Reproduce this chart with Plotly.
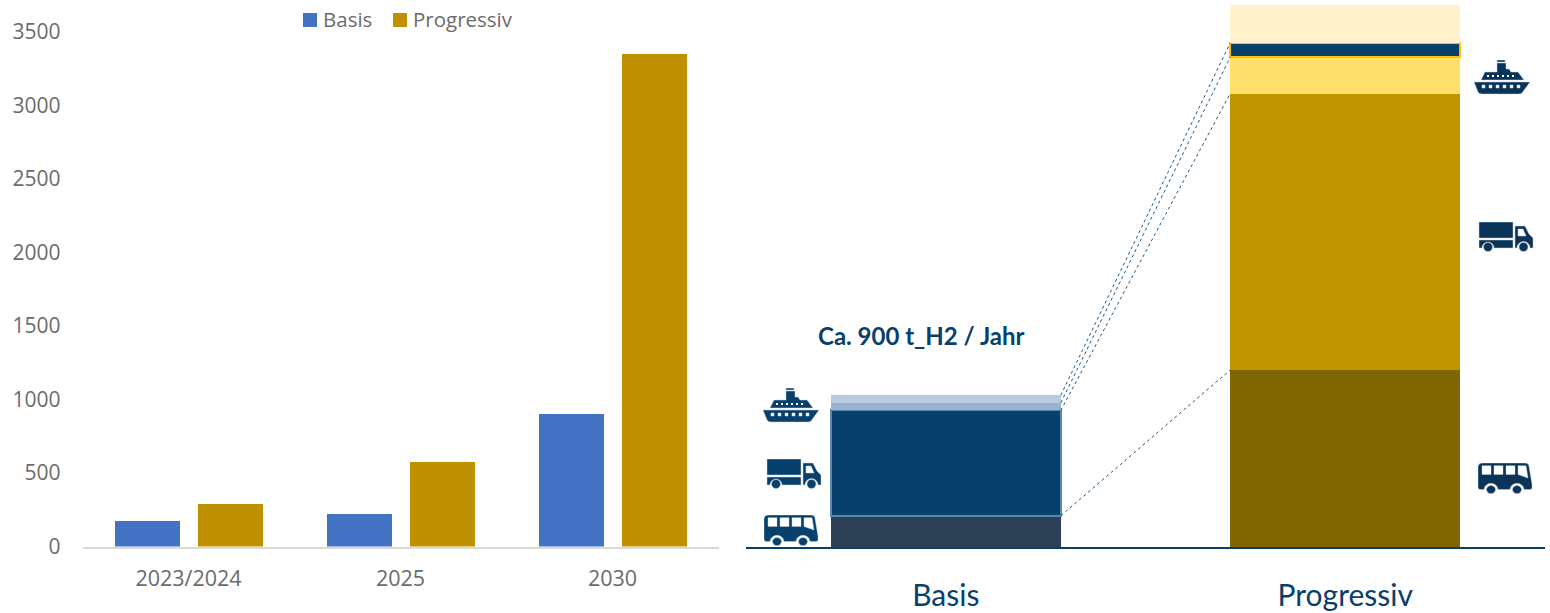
import base64

import plotly.graph_objects as go

# Left chart: hydrogen demand per year and scenario
years = ["2023/2024", "2025", "2030"]
basis = [175, 220, 900]
progressiv = [290, 575, 3350]

# Right chart: 2030 demand per transport segment, bottom to top
scenarios = ["Basis", "Progressiv"]
seg_bus = [185, 1050]
seg_truck = [625, 1640]
seg_ship_a = [45, 215]
seg_ship_b = [45, 85]
seg_ship_c = [0, 225]
segments = [seg_bus, seg_truck, seg_ship_a, seg_ship_b, seg_ship_c]

seg_fill = [
    ["#2c3f55", "#806600"],
    ["#07406c", "#bf9600"],
    ["#97b3cf", "#ffdf6b"],
    ["#b9cbdd", "#07406c"],
    ["#fff2cc", "#fff2cc"],
]
seg_line = [
    ["#2c3f55", "#806600"],
    ["#5b86ae", "#bf9600"],
    ["#97b3cf", "#ffdf6b"],
    ["#b9cbdd", "#ffc000"],
    ["#fff2cc", "#fff2cc"],
]
seg_line_width = [[0, 0], [2, 0], [0, 0], [0, 2], [0, 0]]

W, H = 1550, 613
NAVY = "#07406c"
GREY = "#6b6b6b"
FONT = "Open Sans"
LABEL_FONT = "Lato"
STACK_WIDTH = 0.576
BASIS_BLUE = "#4472c4"
PROG_GOLD = "#bf9000"

fig = go.Figure()

for name, vals, colour, off in [
    ("Basis", basis, BASIS_BLUE, -0.347),
    ("Progressiv", progressiv, PROG_GOLD, 0.042),
]:
    fig.add_bar(x=years, y=vals, name=name, marker_color=colour, marker_line_width=0,
                width=0.306, offset=off, xaxis="x", yaxis="y", showlegend=False)

bases = [0, 0]
tops = []
for vals, fills, lines, widths in zip(segments, seg_fill, seg_line, seg_line_width):
    fig.add_bar(x=[0, 1], y=vals, base=list(bases), width=STACK_WIDTH, offset=-STACK_WIDTH / 2,
                marker=dict(color=fills, line=dict(color=lines, width=widths)),
                xaxis="x2", yaxis="y2", showlegend=False)
    bases = [b + v for b, v in zip(bases, vals)]
    tops.append(list(bases))

# Dotted connectors between matching segment tops of the two stacks
for top in tops[:4]:
    fig.add_scatter(x=[STACK_WIDTH / 2, 1 - STACK_WIDTH / 2], y=top, mode="lines",
                    line=dict(color="#1f5a8a", width=1, dash="dot"),
                    xaxis="x2", yaxis="y2", showlegend=False, hoverinfo="skip")

fig.add_annotation(x=0, y=sum(s[0] for s in segments) + 357, xref="x2", yref="y2",
                   text="<b>Ca. 900 t_H2 / Jahr</b>", showarrow=False, xshift=-25,
                   font=dict(family=LABEL_FONT, size=24, color=NAVY))

# Legend entries, spaced tightly next to the swatches
for name, colour, sq_x, txt_x in [("Basis", BASIS_BLUE, 303, 323), ("Progressiv", PROG_GOLD, 393, 413)]:
    fig.add_shape(type="rect", xref="paper", yref="paper", line_width=0, fillcolor=colour,
                  x0=sq_x / W, x1=(sq_x + 14) / W, y0=1 - 27 / H, y1=1 - 13 / H)
    fig.add_annotation(x=txt_x / W, y=1 - 19 / H, xref="paper", yref="paper", text=name, showarrow=False,
                       xanchor="left", yanchor="middle", xshift=-2, font=dict(family=FONT, size=20.5, color=GREY))


# Transport pictograms as small inline SVGs
def svg_uri(body, vw, vh, fill):
    svg = (f'<svg xmlns="http://www.w3.org/2000/svg" viewBox="0 0 {vw} {vh}" width="{vw*4}" height="{vh*4}" '
           f'preserveAspectRatio="none"><g fill="{fill}" stroke="#c4ced8" stroke-width="0.5">{body}</g></svg>')
    return "data:image/svg+xml;base64," + base64.b64encode(svg.encode()).decode()


SHIP = (
    '<path d="M23 0h8v2h-8z"/>'
    '<path d="M23 3h9v6h3l2 3h7l6 8H7l4-8h12z"/>'
    '<path fill-rule="evenodd" d="M0 22h56l-8 11q-1 1-3 1H8q-3 0-4-2z'
    'M8 25v3h3v-3zM15 25v3h3v-3zM22 25v3h3v-3zM29 25v3h3v-3zM36 25v3h3v-3zM43 25v3h3v-3z"/>'
    '<g fill="#fff" stroke="none"><rect x="13" y="15" width="2" height="2"/><rect x="18" y="15" width="2" height="2"/>'
    '<rect x="23" y="15" width="2" height="2"/><rect x="28" y="15" width="2" height="2"/>'
    '<rect x="33" y="15" width="2" height="2"/><rect x="38" y="15" width="2" height="2"/></g>'
)
TRUCK = (
    '<path d="M1 0h34v16H1z"/>'
    '<path d="M1 18h34v8H16a6 6 0 0 0-12 0H1z"/>'
    '<path fill-rule="evenodd" d="M37 4h10l4 8 4 4v10h-3a6.500 6.500 0 0 0-13 0h-2z'
    'M40 7v7h8l-3-7z"/>'
    '<circle cx="10" cy="25" r="4.500"/><circle cx="45.500" cy="25" r="4.500"/>'
)
BUS = (
    '<path fill-rule="evenodd" d="M5 0h42q4 0 4 4l3 20v4q0 2-2 2h-6a7 7 0 0 0-14 0H20a7 7 0 0 0-14 0H3'
    'q-3 0-3-3V5q0-5 5-5zM4 3v10h9V3zM16 3v10h9V3zM28 3v10h9V3zM40 3v10l10 4-2-14z"/>'
    '<circle cx="13" cy="30" r="4.500"/><circle cx="39" cy="30" r="4.500"/>'
)

# body, view width, view height, drawn height, left, top, colour
icons = [
    (SHIP, 56, 36, 36, 763, 388, NAVY),
    (TRUCK, 56, 31, 31, 766, 459, NAVY),
    (BUS, 55, 35, 31, 764, 515, NAVY),
    (SHIP, 56, 36, 36, 1474, 60, "#0a3358"),
    (TRUCK, 56, 31, 31, 1478, 222, "#0a3358"),
    (BUS, 55, 35, 31, 1478, 463, "#0a3358"),
]
for body, vw, vh, dh, px, py, fill in icons:
    fig.add_layout_image(source=svg_uri(body, vw, vh, fill), xref="paper", yref="paper",
                         x=px / W, y=1 - py / H, sizex=vw / W, sizey=dh / H, sizing="stretch",
                         xanchor="left", yanchor="top", layer="above")

fig.update_layout(
    width=W, height=H, autosize=False,
    margin=dict(l=0, r=0, t=0, b=0, autoexpand=False),
    paper_bgcolor="white", plot_bgcolor="white",
    barmode="overlay", bargap=0, showlegend=False,
    font=dict(family=FONT, size=18, color=GREY),
    xaxis=dict(domain=[82.5 / W, 718.5 / W], type="category", range=[-0.5, 2.5], automargin=False,
               showline=True, linecolor="#d9d9d9", linewidth=2, ticks="", showgrid=False,
               ticklabelstandoff=12, tickfont=dict(size=21.5, color=GREY), anchor="y"),
    yaxis=dict(domain=[(H - 546.5) / H, (H - 32) / H], range=[0, 3500], automargin=False,
               tickvals=[0, 500, 1000, 1500, 2000, 2500, 3000, 3500],
               showline=False, showgrid=False, zeroline=False, ticks="",
               ticklabelstandoff=21, tickfont=dict(size=21, color=GREY), anchor="x"),
    xaxis2=dict(domain=[746 / W, 1545 / W], range=[-0.5, 1.5], tickvals=[0, 1], ticktext=scenarios,
                automargin=False, showline=True, linecolor=NAVY, linewidth=1.5, ticks="", showgrid=False,
                zeroline=False, ticklabelstandoff=21, tickfont=dict(family=LABEL_FONT, size=30, color=NAVY),
                anchor="y2"),
    yaxis2=dict(domain=[(H - 547) / H, (H - 5) / H], range=[0, sum(s[1] for s in segments)],
                automargin=False, visible=False, anchor="x2"),
)

fig.write_html("out.html")
